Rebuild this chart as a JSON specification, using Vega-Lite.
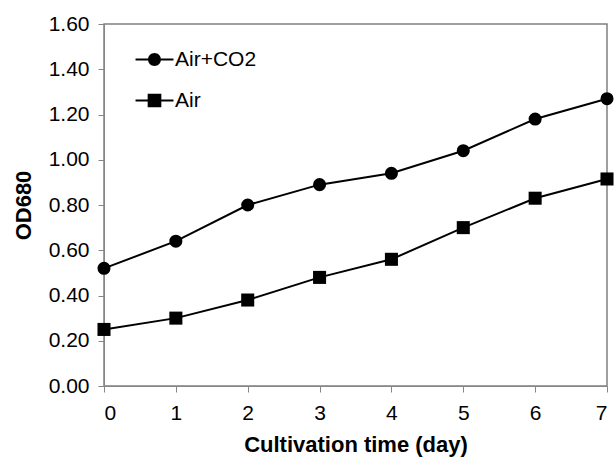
{
  "$schema": "https://vega.github.io/schema/vega-lite/v6.json",
  "width": 503,
  "height": 362,
  "autosize": {"type": "none"},
  "padding": {"left": 104, "top": 24, "right": 7, "bottom": 73},
  "background": "white",
  "config": {
    "font": "Liberation Sans",
    "view": {"stroke": "#808080", "strokeWidth": 1.5},
    "axis": {
      "domainColor": "#868686",
      "tickColor": "#868686",
      "grid": false,
      "labelFont": "Liberation Sans",
      "labelFontSize": 21,
      "labelColor": "#000000",
      "titleFont": "Liberation Sans",
      "titleFontSize": 22,
      "titleFontWeight": "bold",
      "titleColor": "#000000",
      "tickSize": 6
    }
  },
  "data": {
    "values": [
      {"day": 0, "series": "Air+CO2", "od": 0.52},
      {"day": 1, "series": "Air+CO2", "od": 0.64},
      {"day": 2, "series": "Air+CO2", "od": 0.80},
      {"day": 3, "series": "Air+CO2", "od": 0.89},
      {"day": 4, "series": "Air+CO2", "od": 0.94},
      {"day": 5, "series": "Air+CO2", "od": 1.04},
      {"day": 6, "series": "Air+CO2", "od": 1.18},
      {"day": 7, "series": "Air+CO2", "od": 1.27},
      {"day": 0, "series": "Air", "od": 0.25},
      {"day": 1, "series": "Air", "od": 0.30},
      {"day": 2, "series": "Air", "od": 0.38},
      {"day": 3, "series": "Air", "od": 0.48},
      {"day": 4, "series": "Air", "od": 0.56},
      {"day": 5, "series": "Air", "od": 0.70},
      {"day": 6, "series": "Air", "od": 0.83},
      {"day": 7, "series": "Air", "od": 0.915}
    ]
  },
  "encoding": {
    "x": {
      "field": "day",
      "type": "quantitative",
      "scale": {"domain": [0, 7], "nice": false, "zero": false},
      "axis": {"values": [0, 1, 2, 3, 4, 5, 6, 7], "title": "Cultivation time (day)", "labelPadding": 10, "titlePadding": 11}
    },
    "y": {
      "field": "od",
      "type": "quantitative",
      "scale": {"domain": [0, 1.6], "nice": false},
      "axis": {"values": [0, 0.2, 0.4, 0.6, 0.8, 1.0, 1.2, 1.4, 1.6], "format": ".2f", "title": "OD680", "labelPadding": 9, "titlePadding": 13}
    }
  },
  "layer": [
    {
      "mark": {"type": "line", "color": "#000000", "strokeWidth": 2},
      "encoding": {"detail": {"field": "series"}}
    },
    {
      "mark": {"type": "point", "filled": true, "opacity": 0, "color": "#000000"},
      "encoding": {
        "shape": {
          "field": "series",
          "type": "nominal",
          "scale": {
            "domain": ["Air+CO2", "Air"],
            "range": [
              "M-2.92,-0.154H-1V0.154H-2.92ZM1,-0.154H2.92V0.154H1ZM1,0A1,1,0,1,1,-1,0A1,1,0,1,1,1,0Z",
              "M-2.92,-0.154H-1.05V0.154H-2.92ZM1.05,-0.154H2.92V0.154H1.05ZM-1.05,-1.05H1.05V1.05H-1.05Z"
            ]
          },
          "legend": {
            "title": null,
            "orient": "none",
            "legendX": 40,
            "legendY": 25,
            "labelFontSize": 21,
            "labelFont": "Liberation Sans",
            "labelColor": "#000000",
            "symbolSize": 169,
            "symbolOpacity": 1,
            "symbolFillColor": "#000000",
            "labelOffset": 10,
            "rowPadding": 19
          }
        },
        "size": {"value": 169}
      }
    },
    {
      "mark": {"type": "point", "filled": true, "opacity": 1, "color": "#000000"},
      "encoding": {
        "shape": {
          "field": "series",
          "type": "nominal",
          "scale": {"domain": ["Air+CO2", "Air"], "range": ["circle", "square"]},
          "legend": null
        },
        "size": {"value": 170}
      }
    }
  ],
  "resolve": {"scale": {"shape": "independent"}}
}
